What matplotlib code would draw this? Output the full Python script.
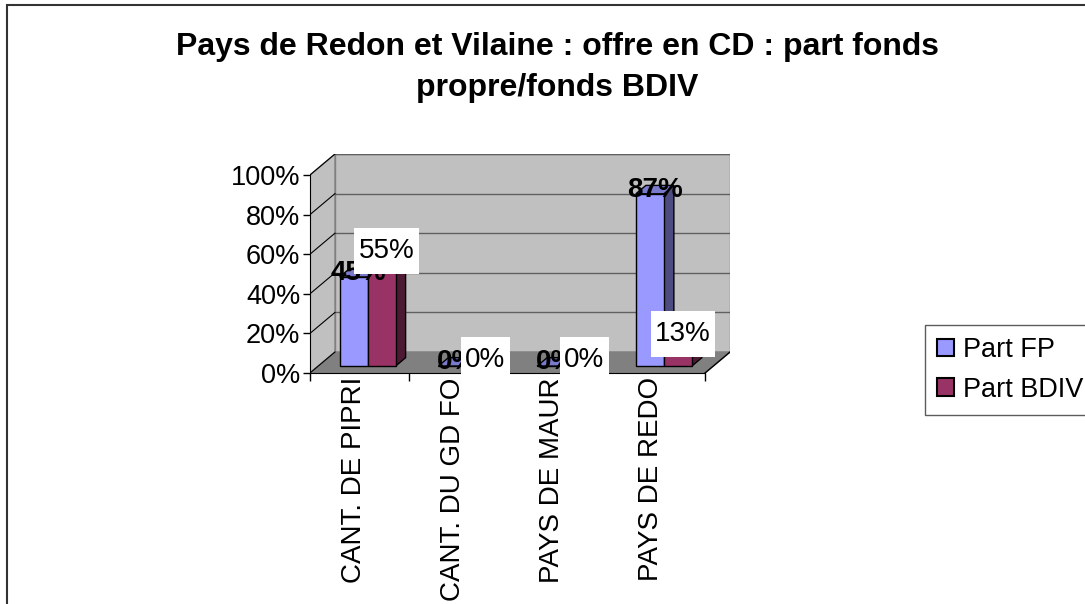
import matplotlib
matplotlib.use("Agg")
import matplotlib.pyplot as plt
from matplotlib.patches import Polygon, Patch, Rectangle
from matplotlib.path import Path

plt.rcParams['font.family'] = ['Liberation Sans', 'DejaVu Sans']

# data
categories = ['CANT. DE PIPRI', 'CANT. DU GD FO', 'PAYS DE MAUR', 'PAYS DE REDO']
part_fp = [45, 0, 0, 87]
part_bdiv = [55, 0, 0, 13]
series_names = ['Part FP', 'Part BDIV']
yticks = [0, 20, 40, 60, 80, 100]

# pseudo 3d look
dx, dy = 0.253, 10.6      # depth offset of the back wall
z0, z1 = 0.33, 0.73       # bar depth (fraction of dx/dy)
w = 0.2835                # bar width
face = [('#9999FF', '#7A7ACC', '#4C4C80'), ('#993366', '#7A2952', '#4D1A33')]


def label_box(x0, y0, width, height, mutation_size):
    # white box, wider padding top/bottom than left/right
    px, py = 0.16 * mutation_size, 0.36 * mutation_size
    x0, y0 = x0 - px, y0 - py
    x1, y1 = x0 + width + 2 * px, y0 + height + 2 * py
    return Path([(x0, y0), (x1, y0), (x1, y1), (x0, y1), (x0, y0)],
                [Path.MOVETO, Path.LINETO, Path.LINETO, Path.LINETO, Path.CLOSEPOLY])


fig = plt.figure(figsize=(10.85, 6.04), dpi=100)
fig.patches.append(Rectangle((7 / 1085, -0.1), 1.2, 1.1 - 5 / 604, transform=fig.transFigure,
                             fill=False, edgecolor='#333333', lw=1.5))

ax = fig.add_axes([310 / 1085, 231 / 604, 420 / 1085, 219 / 604])
n = len(categories)
ax.set_xlim(0, n + dx)
ax.set_ylim(0, 100 + dy)
ax.patch.set_visible(False)
for s in ['top', 'right']:
    ax.spines[s].set_visible(False)
ax.spines['left'].set_bounds(0, 100)
ax.spines['bottom'].set_bounds(0, n)
ax.spines['left'].set_zorder(5)
ax.spines['bottom'].set_zorder(5)

# walls and floor
ax.add_patch(Polygon([(dx, dy), (n + dx, dy), (n + dx, 100 + dy), (dx, 100 + dy)],
                     facecolor='#C0C0C0', edgecolor='#808080', lw=1, zorder=0))
ax.add_patch(Polygon([(0, 0), (dx, dy), (dx, 100 + dy), (0, 100)],
                     facecolor='#C0C0C0', edgecolor='#808080', lw=1, zorder=0))
ax.add_patch(Polygon([(0, 0), (n, 0), (n + dx, dy), (dx, dy)],
                     facecolor='#808080', edgecolor='#808080', lw=1, zorder=0.5))
ax.plot([n, n + dx], [0, dy], color='black', lw=1, zorder=1)
for v in yticks[1:]:
    ax.plot([dx, n + dx], [v + dy, v + dy], color='#606060', lw=1, zorder=0.6)
for v in yticks:
    ax.plot([0, dx], [v, v + dy], color='black', lw=0.8, zorder=0.6)

ax.set_yticks(yticks)
ax.set_yticklabels([f'{v}%' for v in yticks], fontsize=19.5)
ax.tick_params(axis='y', length=5, width=1, pad=2)
ax.set_xticks(range(n + 1))
ax.set_xticklabels([])
ax.tick_params(axis='x', which='major', length=6, width=1, direction='out')
ax.set_xticks([i + 0.45 for i in range(n)], minor=True)
ax.set_xticklabels(categories, minor=True, rotation=90, fontsize=20)
ax.tick_params(axis='x', which='minor', length=0, pad=3)

d = z1 - z0
for s, vals in enumerate([part_fp, part_bdiv]):
    fc, tc, sc = face[s]
    for i, v in enumerate(vals):
        x0 = i + 0.5 + (s - 1) * w + z0 * dx
        b = z0 * dy
        zo = 2 + s
        ax.add_patch(Polygon([(x0 + w, b), (x0 + w + d * dx, b + d * dy),
                              (x0 + w + d * dx, b + v + d * dy), (x0 + w, b + v)],
                             facecolor=sc, edgecolor='black', lw=1, zorder=zo))
        ax.add_patch(Polygon([(x0, b + v), (x0 + w, b + v), (x0 + w + d * dx, b + v + d * dy),
                              (x0 + d * dx, b + v + d * dy)],
                             facecolor=tc, edgecolor='black', lw=1, zorder=zo))
        ax.add_patch(Polygon([(x0, b), (x0 + w, b), (x0 + w, b + v), (x0, b + v)],
                             facecolor=fc, edgecolor='black', lw=1, zorder=zo))

# value labels
for s, vals in enumerate([part_fp, part_bdiv]):
    for i, v in enumerate(vals):
        x = i + 0.5 + (s - 0.5) * w + z0 * dx + 0.5 * d * dx
        y = z0 * dy + v + 0.5 * d * dy
        if s == 0:
            ax.text(x, y, f'{v}%', ha='center', va='center', fontsize=20,
                    fontweight='bold', zorder=10)
        else:
            ax.text(x, y + 1, f'{v}%', ha='center', va='center', fontsize=20, zorder=11,
                    bbox=dict(boxstyle=label_box, facecolor='white', edgecolor='none'))

fig.text(557 / 1085, 1 - 47 / 604, 'Pays de Redon et Vilaine : offre en CD : part fonds',
         ha='center', va='center', fontsize=23, fontweight='bold')
fig.text(557 / 1085, 1 - 88 / 604, 'propre/fonds BDIV',
         ha='center', va='center', fontsize=23, fontweight='bold')

handles = [Patch(facecolor=face[k][0], edgecolor='black', lw=1.5) for k in range(2)]
fig.legend(handles, series_names, loc='upper left', bbox_to_anchor=(925 / 1085, 1 - 325 / 604),
           borderaxespad=0, fontsize=19.5, frameon=True, fancybox=False, edgecolor='#333333',
           handlelength=0.62, handleheight=0.62, handletextpad=0.35, borderpad=0.45,
           labelspacing=0.5)

fig.savefig('out.png', dpi=100)
